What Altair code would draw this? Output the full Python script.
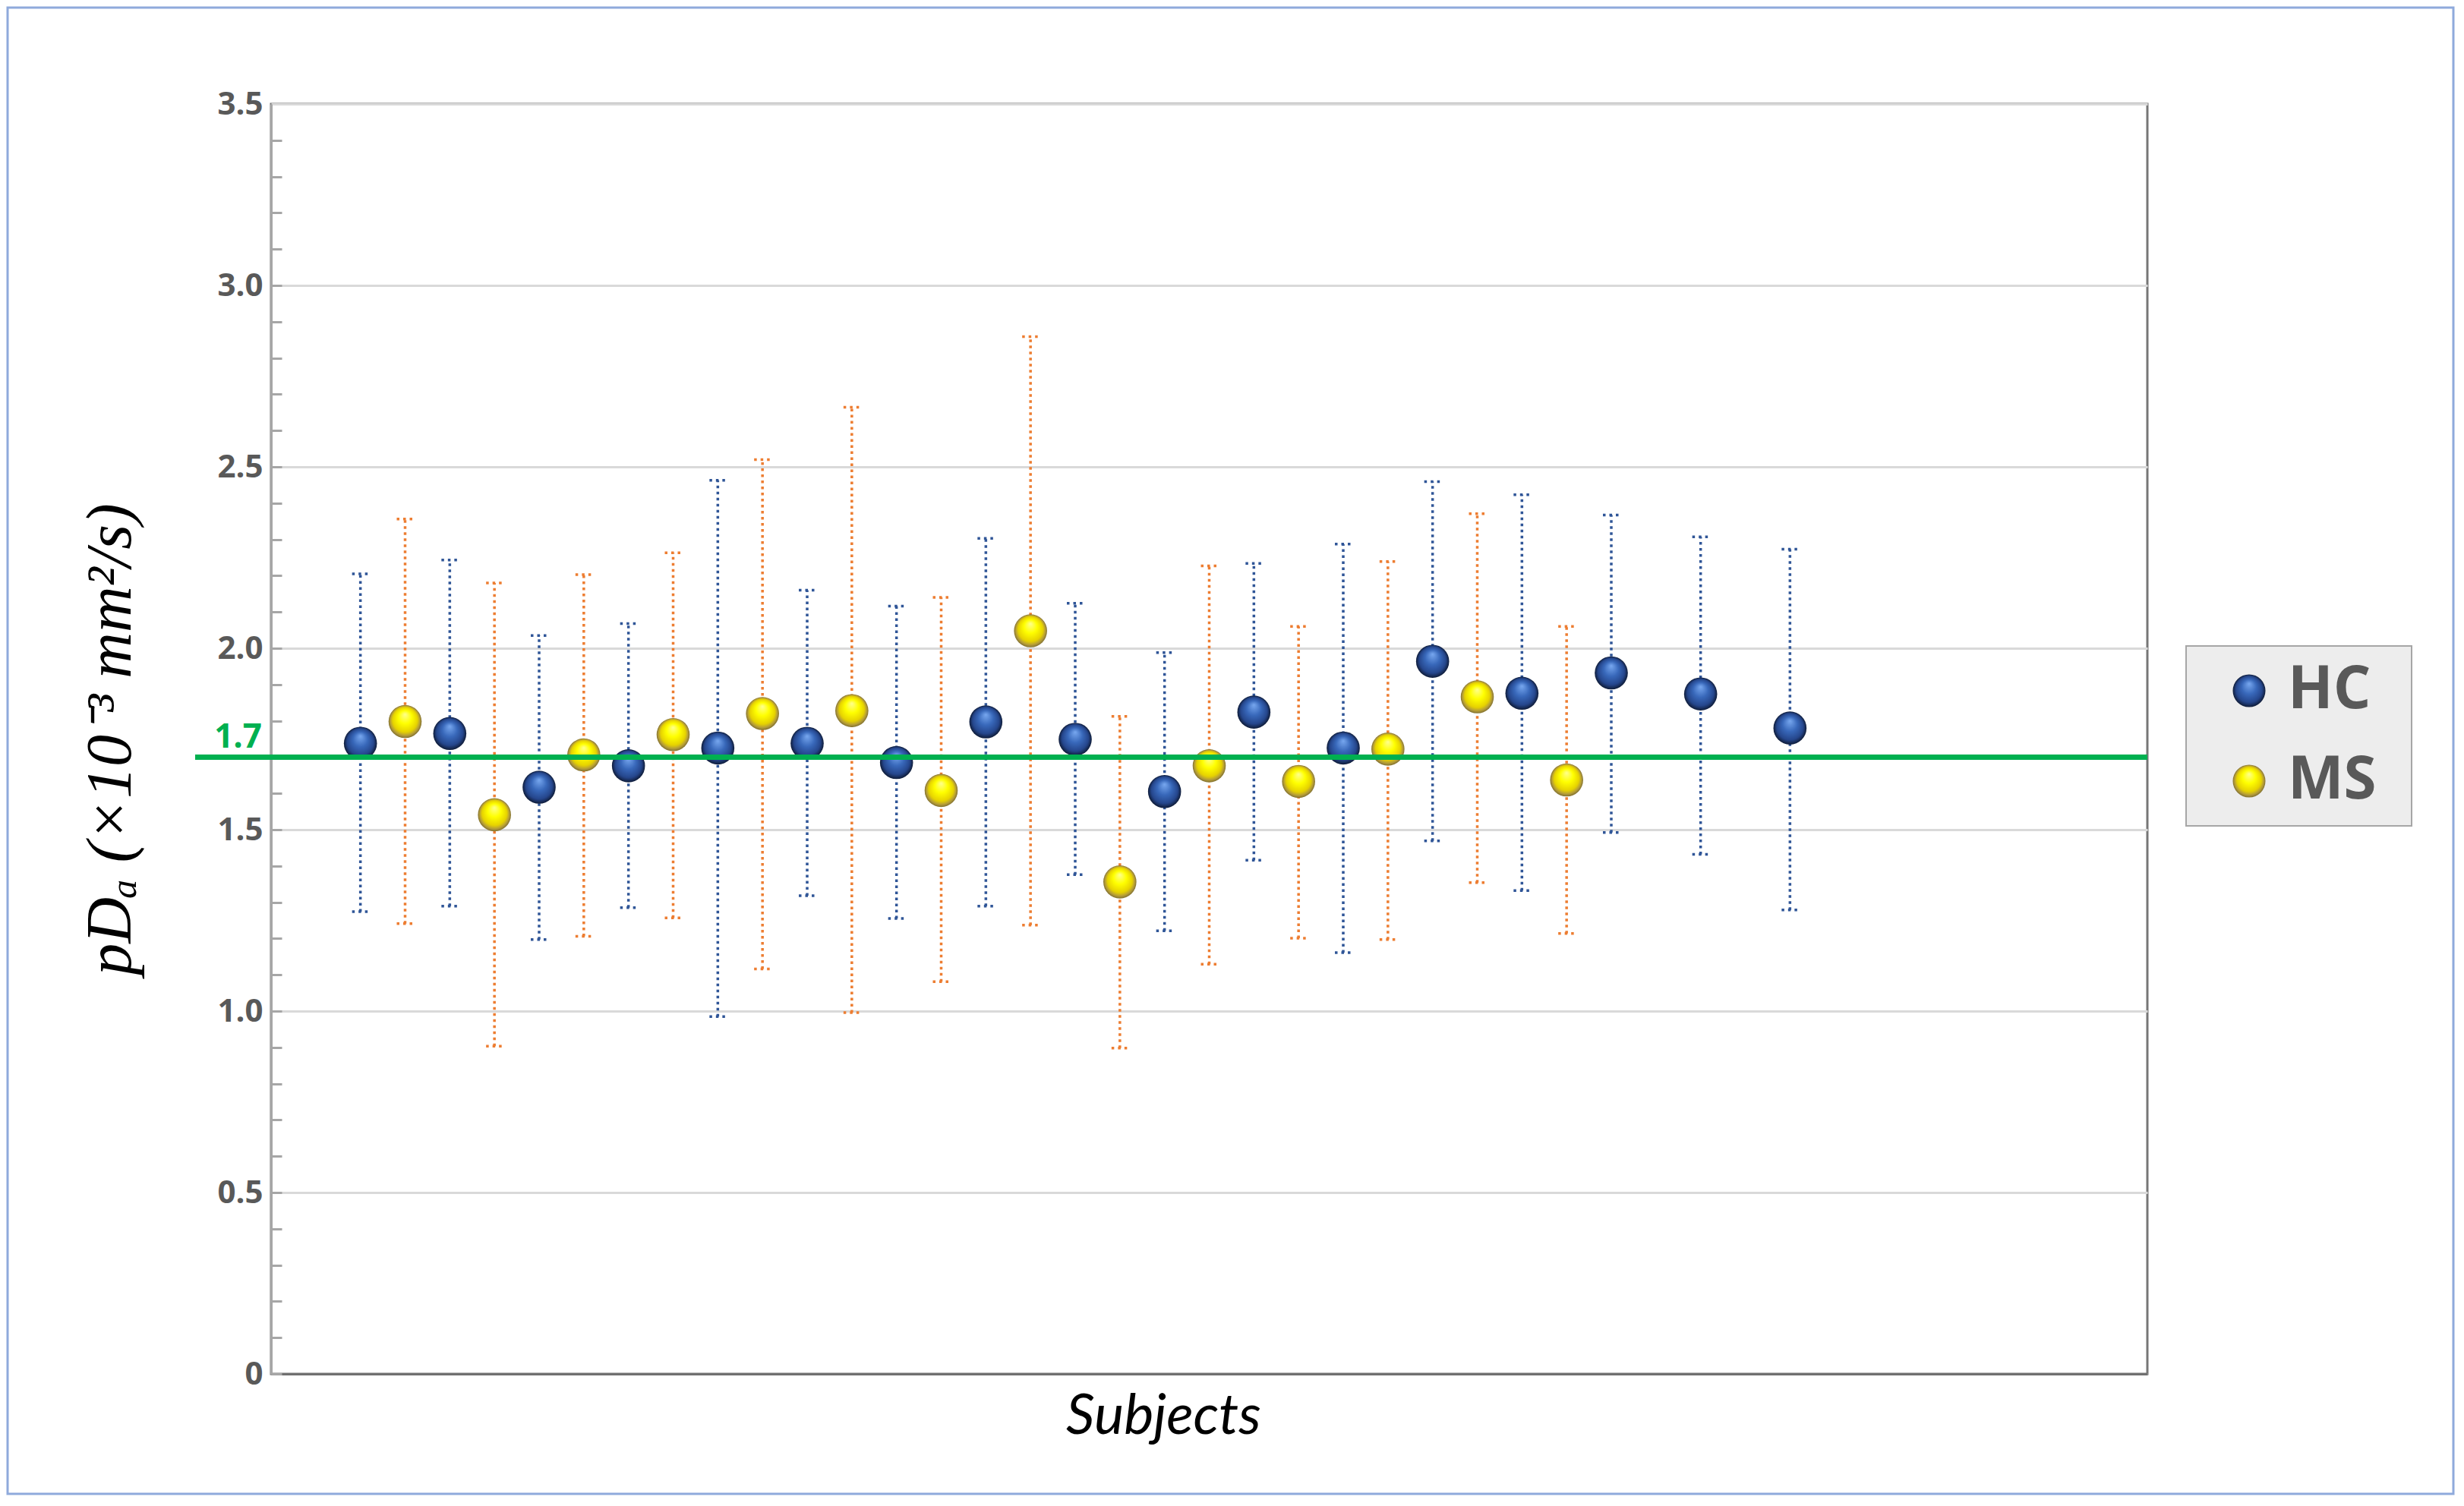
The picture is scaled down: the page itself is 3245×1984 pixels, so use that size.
import altair as alt
import pandas as pd

# ---------------- data ----------------
GROUPS = ["HC", "MS"]

HC_SUBJECT = [1, 3, 5, 7, 9, 11, 13, 15, 17, 19, 21, 23, 25, 27, 29, 31, 33]
HC_MEAN = [1.738, 1.765, 1.617, 1.676, 1.725, 1.738, 1.685, 1.797, 1.749,
           1.605, 1.824, 1.725, 1.964, 1.876, 1.932, 1.874, 1.780]
HC_LOW = [1.274, 1.289, 1.197, 1.285, 0.985, 1.318, 1.255, 1.289, 1.376,
          1.221, 1.416, 1.161, 1.469, 1.332, 1.492, 1.432, 1.279]
HC_HIGH = [2.205, 2.243, 2.035, 2.068, 2.463, 2.160, 2.116, 2.303, 2.124,
           1.988, 2.234, 2.287, 2.459, 2.423, 2.367, 2.307, 2.273]

MS_SUBJECT = [2, 4, 6, 8, 10, 12, 14, 16, 18, 20, 22, 24, 26, 28]
MS_MEAN = [1.798, 1.541, 1.706, 1.762, 1.820, 1.828, 1.608, 2.048, 1.356,
           1.676, 1.633, 1.722, 1.866, 1.637]
MS_LOW = [1.241, 0.903, 1.206, 1.257, 1.116, 0.996, 1.081, 1.237, 0.898,
          1.129, 1.201, 1.197, 1.354, 1.214]
MS_HIGH = [2.356, 2.180, 2.203, 2.263, 2.520, 2.664, 2.140, 2.859, 1.8125,
           2.227, 2.060, 2.239, 2.371, 2.060]

THRESHOLD = 1.7
THRESHOLD_LABEL = "1.7"
X_DOMAIN = [-1, 41]
Y_DOMAIN = [0, 3.5]
Y_MAJOR = [0, 0.5, 1.0, 1.5, 2.0, 2.5, 3.0, 3.5]
Y_MINOR = [0.0, 0.1, 0.2, 0.3, 0.4, 0.5, 0.6, 0.7, 0.8, 0.9, 1.0, 1.1, 1.2,
           1.3, 1.4, 1.5, 1.6, 1.7, 1.8, 1.9, 2.0, 2.1, 2.2, 2.3, 2.4, 2.5,
           2.6, 2.7, 2.8, 2.9, 3.0, 3.1, 3.2, 3.3, 3.4]
THRESHOLD_X = [-2.7, 41]

Y_TITLE = "pDₐ (×10⁻³ mm²/s)"
X_TITLE = "Subjects"

# ---------------- styles ----------------
W, H = 2471, 1673
PAD = {"left": 349, "top": 129, "right": 405, "bottom": 160}
BOLD_FONT = "Open Sans"

ERR_COLORS = {"HC": "#2F5597", "MS": "#ED7D31"}
HC_GRAD = ("{gradient:'radial',x1:0.5,y1:0.28,r1:0,x2:0.5,y2:0.5,r2:0.5,"
           "stops:[{offset:0,color:'#78A8F0'},{offset:0.45,color:'#3868BA'},"
           "{offset:0.8,color:'#25468C'},{offset:1,color:'#0F1C38'}]}")
MS_GRAD = ("{gradient:'radial',x1:0.5,y1:0.28,r1:0,x2:0.5,y2:0.5,r2:0.5,"
           "stops:[{offset:0,color:'#FFFF90'},{offset:0.4,color:'#FFFF00'},"
           "{offset:0.75,color:'#E6D200'},{offset:0.9,color:'#B39B3A'},"
           "{offset:1,color:'#80702E'}]}")

rows = []
for s, m, lo, hi in zip(HC_SUBJECT, HC_MEAN, HC_LOW, HC_HIGH):
    rows.append({"subject": s, "group": "HC", "mean": m, "lo": lo, "hi": hi})
for s, m, lo, hi in zip(MS_SUBJECT, MS_MEAN, MS_LOW, MS_HIGH):
    rows.append({"subject": s, "group": "MS", "mean": m, "lo": lo, "hi": hi})
df = pd.DataFrame(rows)

x_axis = alt.Axis(labels=False, ticks=False, grid=False, domainColor="#707070",
                  domainWidth=3, title=X_TITLE, titleFont="Lato",
                  titleFontStyle="italic", titleFontWeight="normal",
                  titleFontSize=74, titleColor="black", titleX=1175,
                  titleY=78, titleBaseline="alphabetic", titleAlign="center")
x_scale = alt.Scale(domain=X_DOMAIN, nice=False, zero=False)
y_scale = alt.Scale(domain=Y_DOMAIN, nice=False, zero=False)

X = alt.X("subject:Q", scale=x_scale, axis=x_axis)

base = alt.Chart(df)

minor_axis = alt.Axis(orient="right", offset=-W, values=Y_MINOR, labels=False,
                      domain=False, grid=False, ticks=True, tickSize=14,
                      tickColor="#A6A6A6", tickWidth=3, title=None)

err_layers = []
for i, g in enumerate(GROUPS):
    sub = base.transform_filter(alt.datum.group == g)
    col = ERR_COLORS[g]
    err_layers.append(sub.mark_rule(strokeDash=[3.5, 4.5], strokeWidth=3.5,
                                    color=col).encode(
        x=X, y=alt.Y("lo:Q", scale=y_scale, axis=None), y2="hi:Q"))
    err_layers.append(sub.mark_rule(xOffset=-11, x2Offset=11,
                                    strokeDash=[3.5, 5], strokeWidth=3.5,
                                    color=col).encode(
        x=X, x2="subject:Q", y=alt.Y("hi:Q", scale=y_scale, axis=None)))
    err_layers.append(sub.mark_rule(xOffset=-11, x2Offset=11,
                                    strokeDash=[3.5, 5], strokeWidth=3.5,
                                    color=col).encode(
        x=X, x2="subject:Q",
        y=alt.Y("lo:Q", scale=y_scale, axis=minor_axis if i == 0 else None)))

main_y_axis = alt.Axis(
    values=Y_MAJOR,
    labelExpr="datum.value == 0 ? '0' : format(datum.value, '.1f')",
    labelFont=BOLD_FONT, labelFontWeight="bold", labelFontSize=42,
    labelColor="#595959", labelPadding=11, ticks=False,
    domainColor="#A6A6A6", domainWidth=3,
    grid=True, gridColor="#D9D9D9", gridWidth=3,
    title=Y_TITLE, titleFont="Liberation Serif", titleFontStyle="italic",
    titleFontWeight="normal", titleFontSize=84, titleColor="black",
    titlePadding=96,
)

legend = alt.Legend(
    orient="none", legendX=2522, legendY=714, title=" ", titleOrient="right",
    titlePadding=26, titleFontSize=10, direction="vertical", padding=20,
    symbolOffset=24, symbolSize=1850, symbolStrokeWidth=0, symbolOpacity=1,
    symbolType="circle", labelFont=BOLD_FONT, labelFontSize=78,
    labelFontWeight="bold", labelColor="#595959", labelOffset=12,
    rowPadding=41, fillColor="#EDEDED", strokeColor="#A6A6A6",
)

points = base.mark_circle(size=1900, opacity=1).encode(
    x=X,
    y=alt.Y("mean:Q", scale=y_scale, axis=main_y_axis),
    fill=alt.Fill("group:N",
                  scale=alt.Scale(domain=GROUPS,
                                  range=[alt.ExprRef(expr=HC_GRAD),
                                         alt.ExprRef(expr=MS_GRAD)]),
                  legend=legend),
)

thr_df = pd.DataFrame({"x": [THRESHOLD_X[0]], "x2": [THRESHOLD_X[1]],
                       "y": [THRESHOLD], "label": [THRESHOLD_LABEL]})

thr_line = alt.Chart(thr_df).mark_rule(color="#00B050", strokeWidth=7).encode(
    x=alt.X("x:Q", scale=x_scale, axis=x_axis),
    x2="x2:Q",
    y=alt.Y("y:Q", scale=y_scale, axis=None),
)

thr_text = alt.Chart(thr_df).mark_text(
    align="right", baseline="alphabetic", dx=-12, dy=-12, font=BOLD_FONT,
    fontWeight="bold", fontSize=44, color="#00B050",
).encode(
    x=alt.X("x2:Q", scale=x_scale, axis=x_axis),
    y=alt.Y("y:Q", scale=y_scale, axis=None),
    text="label:N",
).transform_calculate(x2=str(X_DOMAIN[0]))

frame = alt.Chart(thr_df).mark_rect(fillOpacity=0, stroke="#8FAADC",
                                    strokeWidth=3).encode(
    x=alt.value(-PAD["left"] + 2), x2=alt.value(W + PAD["right"] - 2),
    y=alt.value(-PAD["top"] + 2), y2=alt.value(H + PAD["bottom"] - 2),
)

chart = alt.layer(*err_layers, points, thr_line, thr_text, frame).resolve_axis(
    y="independent"
).properties(
    width=W, height=H, padding=PAD,
    autosize=alt.AutoSizeParams(type="none"),
    background="white",
).configure_view(stroke="#767676", strokeWidth=3).configure_legend(strokeWidth=2)

chart.save("out.html", embed_options={"renderer": "svg", "actions": False})
